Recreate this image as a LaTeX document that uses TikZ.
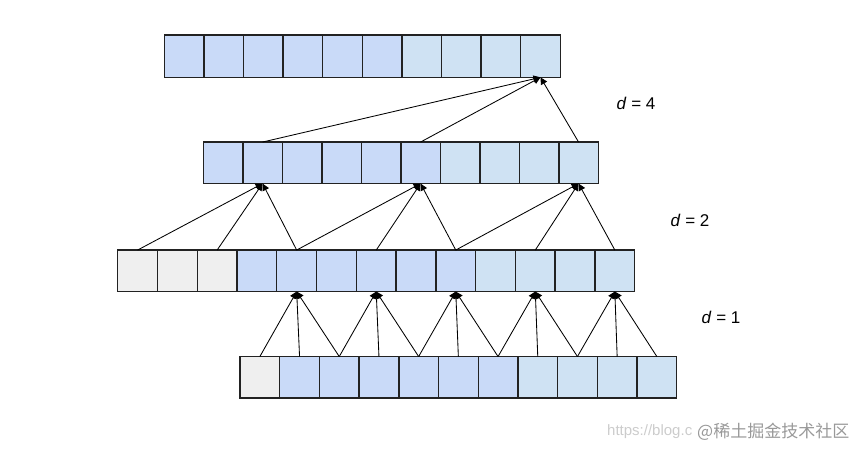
\documentclass[tikz,border=0pt]{standalone}
\usepackage{fontspec}
\setmainfont{Liberation Sans}
\newfontfamily\cjk{Noto Sans CJK SC}
\usetikzlibrary{arrows.meta}
\definecolor{cblue}{HTML}{C9DAF8}
\definecolor{clight}{HTML}{CFE2F3}
\definecolor{cgray}{HTML}{EFEFEF}
\definecolor{cborder}{HTML}{222222}
\begin{document}
\begin{tikzpicture}[x=1pt,y=-1pt,
  cell/.style={minimum height=41.5pt, inner sep=0pt, outer sep=0pt},
  cellborder/.style={draw=cborder, line width=1.4pt},
  link/.style={-{Triangle[length=7pt,width=7pt]}, line width=0.85pt, black},
  lbl/.style={font=\fontsize{17}{20}\selectfont, anchor=center}]
\useasboundingbox (0,0) rectangle (864,448);
% row 1 (top)
\foreach \i in {0,...,9}{
  \ifnum\i<6 \def\fc{cblue}\else\def\fc{clight}\fi
  \node[cell, fill=\fc, minimum width=39.6pt, minimum height=42.3pt] (a\i) at ({184.1+39.6*\i},56.2) {};
}
% row 2
\foreach \i in {0,...,9}{
  \ifnum\i<6 \def\fc{cblue}\else\def\fc{clight}\fi
  \node[cell, fill=\fc, minimum width=39.5pt] (b\i) at ({223.05+39.5*\i},162.8) {};
}
% row 3
\foreach \i in {0,...,12}{
  \ifnum\i<3 \def\fc{cgray}\else\ifnum\i<9 \def\fc{cblue}\else\def\fc{clight}\fi\fi
  \node[cell, fill=\fc, minimum width=39.77pt] (c\i) at ({137.6+39.77*\i},270.8) {};
}
% row 4 (bottom)
\foreach \i in {0,...,10}{
  \ifnum\i<1 \def\fc{cgray}\else\ifnum\i<7 \def\fc{cblue}\else\def\fc{clight}\fi\fi
  \node[cell, fill=\fc, minimum width=39.7pt] (e\i) at ({259.85+39.7*\i},377.3) {};
}
% cell borders: outer frame per row, then each inner divider once
\draw[cellborder] (a0.north west) rectangle (a9.south east);
\draw[cellborder] (b0.north west) rectangle (b9.south east);
\draw[cellborder] (c0.north west) rectangle (c12.south east);
\draw[cellborder] (e0.north west) rectangle (e10.south east);
\foreach \i in {0,...,8}{
  \draw[cellborder] (a\i.north east) -- (a\i.south east);
  \draw[cellborder] (b\i.north east) -- (b\i.south east);
}
\foreach \i in {0,...,11}
  \draw[cellborder] (c\i.north east) -- (c\i.south east);
\foreach \i in {0,...,9}
  \draw[cellborder] (e\i.north east) -- (e\i.south east);
% d = 1
\foreach \t/\s in {4/0,4/1,4/2,6/2,6/3,6/4,8/4,8/5,8/6,10/6,10/7,10/8,12/8,12/9,12/10}
  \draw[link] (e\s.north) -- (c\t.south);
% d = 2
\foreach \t/\s in {1/0,1/2,1/4,5/4,5/6,5/8,9/8,9/10,9/12}
  \draw[link] (c\s.north) -- (b\t.south);
% d = 4
\foreach \s in {1,5,9}
  \draw[link] (b\s.north) -- (a9.south);
% labels
\node[lbl] (l4) at (636,103) {\textit{d} = 4};
\node[lbl] (l2) at (690,220) {\textit{d} = 2};
\node[lbl] (l1) at (721,317) {\textit{d} = 1};
% watermark
\node[anchor=west, inner sep=0pt, text=black!20, font=\fontsize{15}{17}\selectfont] (wm1) at (607,432) {https://blog.c};
\node[anchor=west, inner sep=0pt, text=black!40, font=\cjk\fontsize{17}{19}\selectfont] (wm2) at (697,432) {@稀土掘金技术社区};
\end{tikzpicture}
\end{document}
